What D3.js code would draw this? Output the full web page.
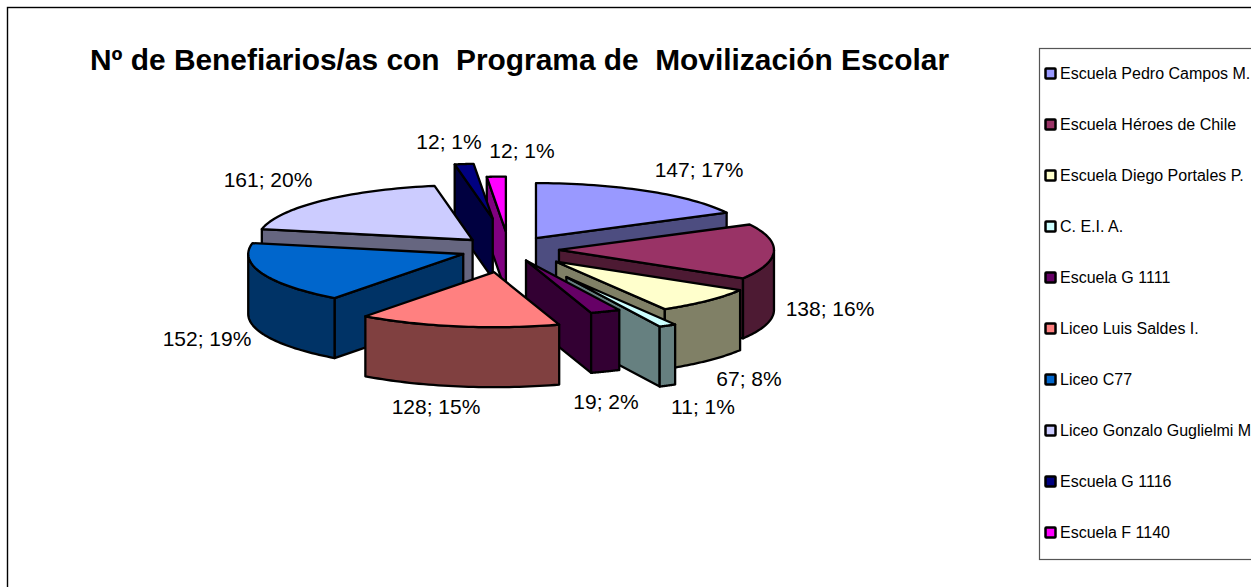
<!DOCTYPE html>
<html>
<head>
<meta charset="utf-8">
<script src="https://cdn.jsdelivr.net/npm/d3@7"></script>
<style>
body { margin: 0; background: #fff; }
svg { display: block; }
text { font-family: "Liberation Sans", Arial, sans-serif; fill: #000; }
</style>
</head>
<body>
<script>
// data
var schools = ["Escuela Pedro Campos M.", "Escuela Héroes de Chile", "Escuela Diego Portales P.", "C. E.I. A.", "Escuela G 1111",
    "Liceo Luis Saldes I.", "Liceo C77", "Liceo Gonzalo Guglielmi M", "Escuela G 1116", "Escuela F 1140"];
var beneficiaries = [147, 138, 67, 11, 19, 128, 152, 161, 12, 12];
var percents = [17, 16, 8, 1, 2, 15, 19, 20, 1, 1];
var colors = ["#9999FF", "#993366", "#FFFFCC", "#CCFFFF", "#660066", "#FF8080", "#0066CC", "#CCCCFF", "#000080", "#FF00FF"];
// how far each slice is pulled out of the pie
var explode = [52, 50, 67, 122, 46, 90, 49, 52, 122, 70];
var chartTitle = "Nº de Benefiarios/as con  Programa de  Movilización Escolar";

var svgWidth = 1251;
var svgHeight = 587;
var center = { x: 509, y: 249.5 };
var rx = 215;
var ry = 55;
var depth = 60;

var labelPos = [[699, 177], [830, 316], [749, 386], [703, 414], [606, 409], [436, 414], [207, 346], [268, 187], [449, 149], [522, 158]];

var svg = d3.select("body").append("svg")
    .attr("width", svgWidth)
    .attr("height", svgHeight);

// frame, right and bottom sides run off the page
svg.append("rect")
    .attr("x", 7.5).attr("y", 7.5)
    .attr("width", 1300).attr("height", 700)
    .attr("fill", "none").attr("stroke", "#000").attr("stroke-width", 1.4);

svg.append("text")
    .attr("x", 90).attr("y", 70)
    .attr("font-size", 29.5).attr("font-weight", "bold")
    .attr("textLength", 859).attr("lengthAdjust", "spacingAndGlyphs")
    .style("white-space", "pre")
    .text(chartTitle);

// angles, clockwise from north like the original
var pie = d3.pie().sort(null);
var slices = pie(beneficiaries).map(function(d, i) {
    var mid = (d.startAngle + d.endAngle) / 2;
    return {
        i: i,
        a0: d.startAngle,
        a1: d.endAngle,
        cx: center.x + explode[i] * Math.sin(mid),
        cy: center.y - explode[i] * Math.cos(mid) * ry / rx
    };
});

var line = d3.line();

function rim(s, a, dy) {
    return [s.cx + rx * Math.sin(a), s.cy - ry * Math.cos(a) + (dy || 0)];
}

function arcPoints(s, a0, a1, dy) {
    return d3.range(0, 41).map(function(k) {
        return rim(s, a0 + (a1 - a0) * k / 40, dy);
    });
}

function face(g, pts, fill) {
    g.append("path")
        .attr("d", line(pts) + "Z")
        .attr("fill", fill)
        .attr("stroke", "#000")
        .attr("stroke-width", 2.3)
        .attr("stroke-linejoin", "round");
}

function drawSlice(s) {
    var g = svg.append("g");
    var side = d3.rgb(colors[s.i]);
    side = d3.rgb(side.r / 2, side.g / 2, side.b / 2).formatHex();
    var apex = [s.cx, s.cy];
    var apexLow = [s.cx, s.cy + depth];

    // only the cut faces turned towards the viewer
    if (Math.sin(s.a0) < -1e-6) {
        face(g, [apex, rim(s, s.a0), rim(s, s.a0, depth), apexLow], side);
    }
    if (Math.sin(s.a1) > 1e-6) {
        face(g, [apex, rim(s, s.a1), rim(s, s.a1, depth), apexLow], side);
    }
    // outer wall
    var w0 = Math.max(s.a0, Math.PI / 2);
    var w1 = Math.min(s.a1, 3 * Math.PI / 2);
    if (w1 > w0) {
        face(g, arcPoints(s, w0, w1).concat(arcPoints(s, w1, w0, depth)), side);
    }
    // top
    face(g, [apex].concat(arcPoints(s, s.a0, s.a1)), colors[s.i]);
}

// back to front
[9, 8, 7, 0, 1, 2, 3, 4, 6, 5].forEach(function(i) {
    drawSlice(slices[i]);
});

// data labels
svg.append("g").selectAll("text")
    .data(beneficiaries)
    .enter()
    .append("text")
    .attr("x", function(d, i) { return labelPos[i][0]; })
    .attr("y", function(d, i) { return labelPos[i][1]; })
    .attr("text-anchor", "middle")
    .attr("font-size", 21)
    .text(function(d, i) { return d + "; " + percents[i] + "%"; });

// legend
var legendY = d3.scalePoint().domain(schools).range([73.5, 532.5]);

svg.append("rect")
    .attr("x", 1039.5).attr("y", 48.5)
    .attr("width", 300).attr("height", 511)
    .attr("fill", "#fff").attr("stroke", "#555").attr("stroke-width", 1.2);

var legend = svg.append("g").selectAll("g")
    .data(schools)
    .enter()
    .append("g")
    .attr("transform", function(d) { return "translate(0," + legendY(d) + ")"; });

legend.append("rect")
    .attr("x", 1045.5).attr("y", -5)
    .attr("width", 10).attr("height", 10)
    .attr("rx", 0.8)
    .attr("fill", function(d, i) { return colors[i]; })
    .attr("stroke", "#000").attr("stroke-width", 2.5);

legend.append("text")
    .attr("x", 1060).attr("y", 5.5)
    .attr("font-size", 16)
    .text(function(d) { return d; });
</script>
</body>
</html>
